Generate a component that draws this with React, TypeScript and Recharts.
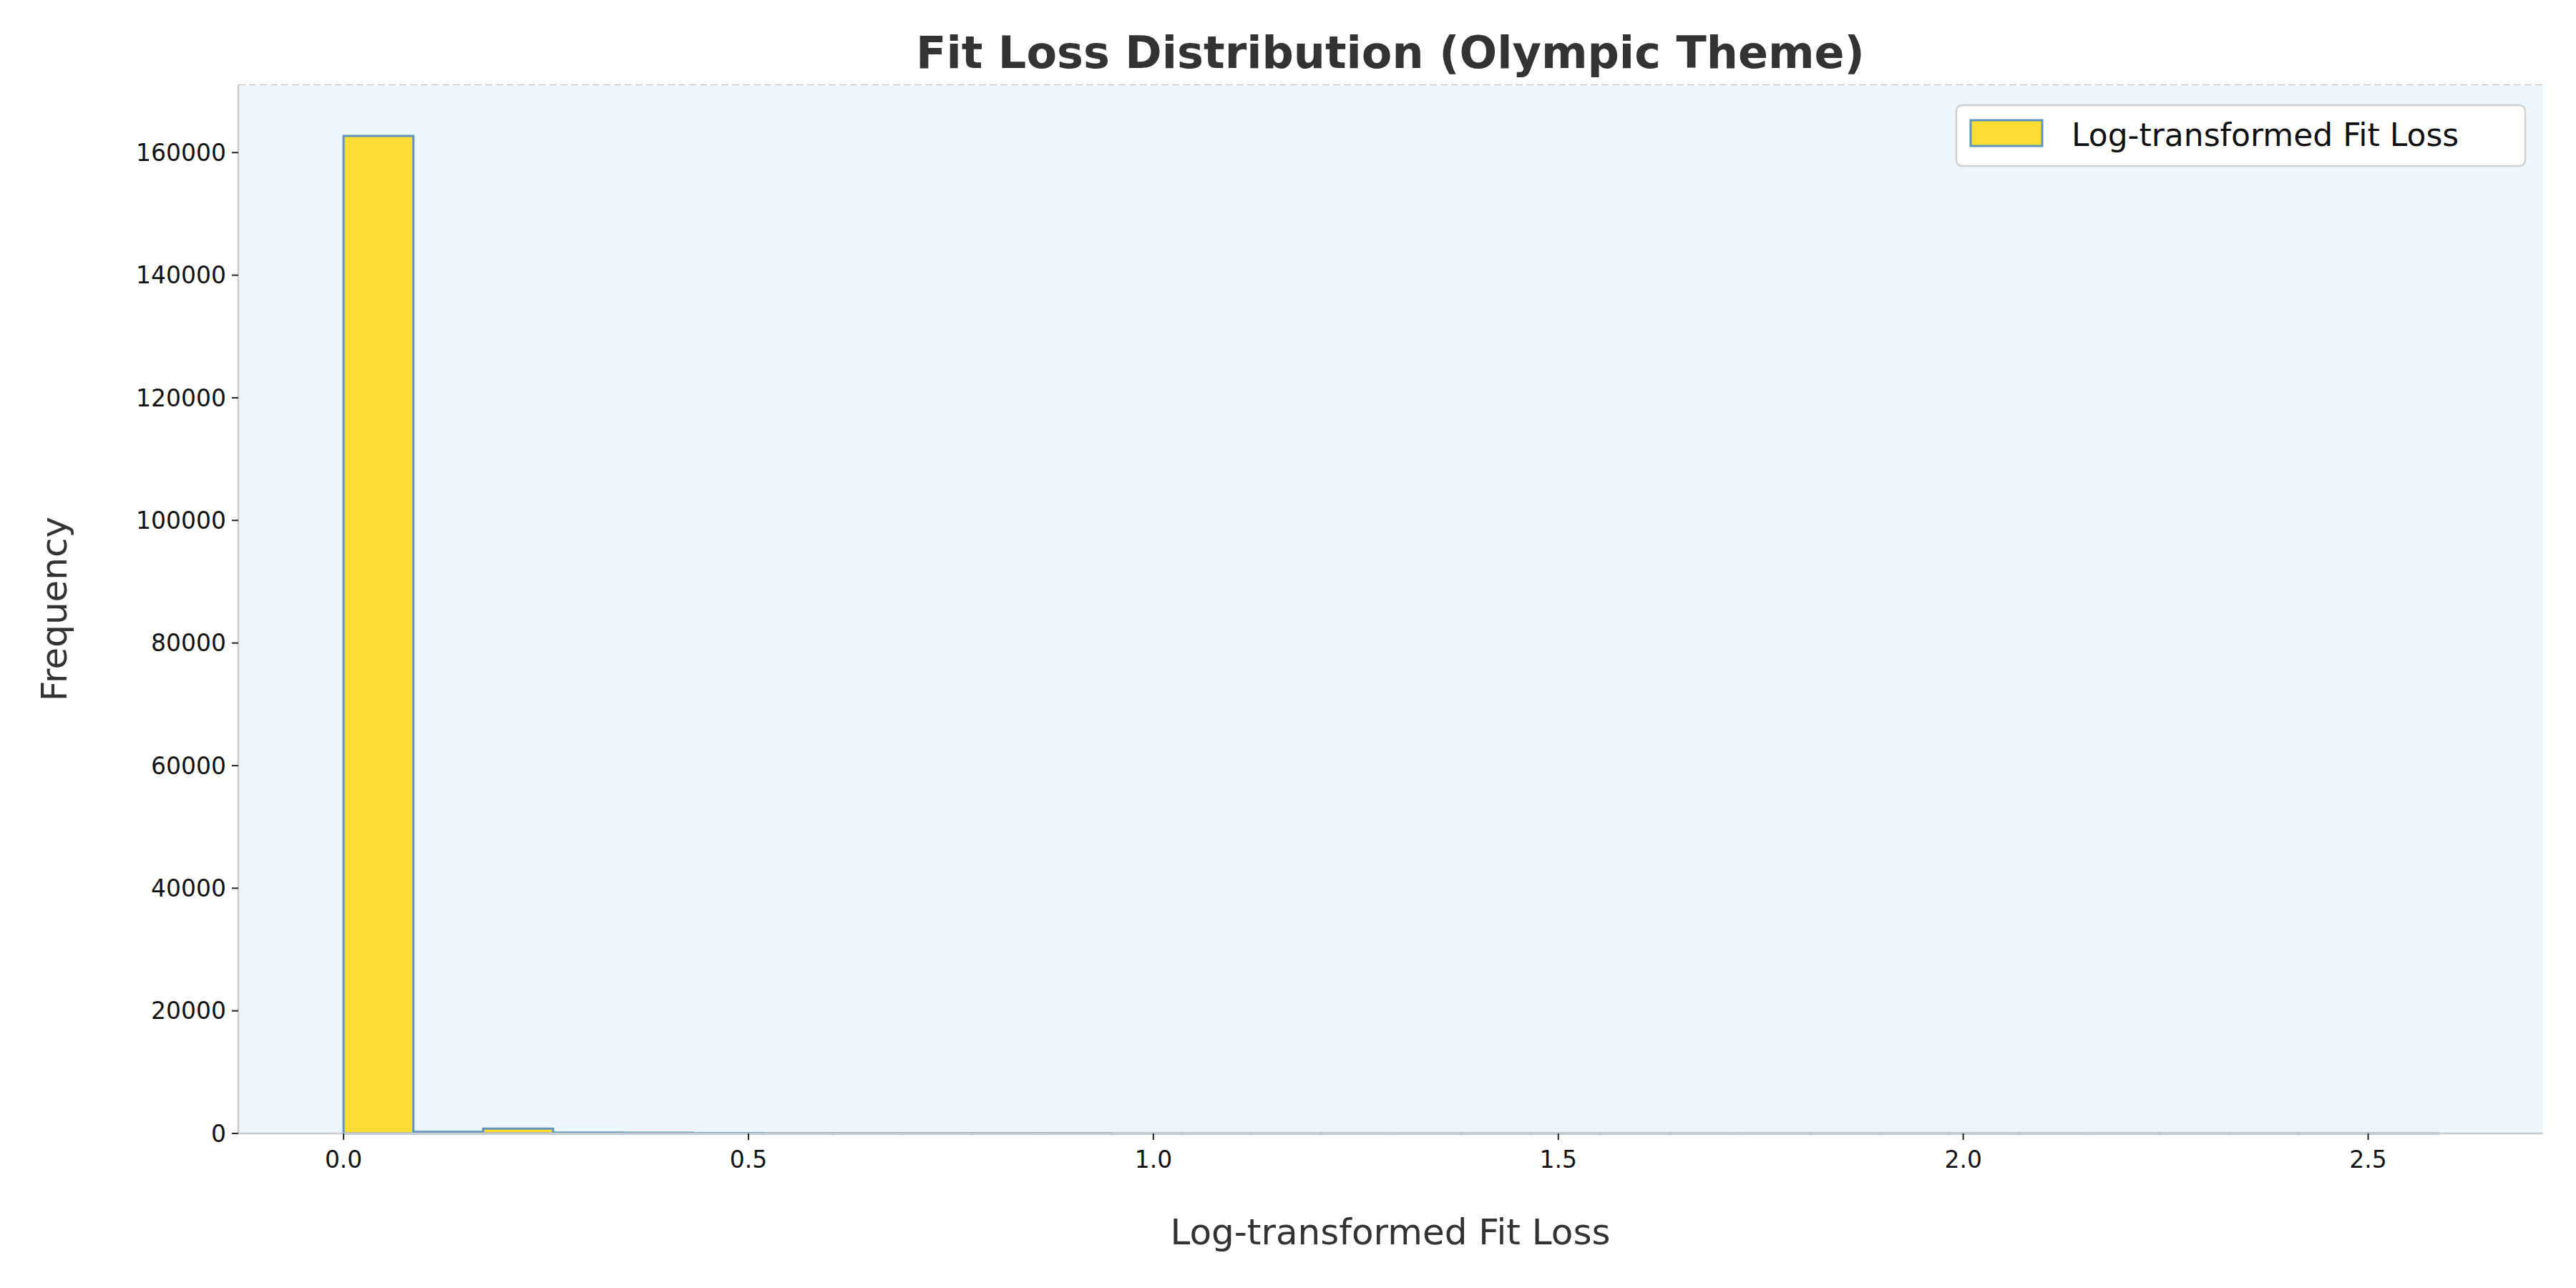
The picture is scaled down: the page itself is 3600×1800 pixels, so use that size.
import React from "react";
import { ComposedChart, XAxis, YAxis, CartesianGrid, ReferenceArea, Scatter } from "recharts";

const binStart = 0;
const binWidth = 0.08623;
const binCounts = [162700, 250, 800, 160, 120, 60, 40, 30, 25, 20, 15, 12, 10, 10, 8, 8, 6, 6, 5, 5, 4, 4, 3, 3, 3, 2, 2, 2, 2, 2];
const xTicks = [0, 0.5, 1.0, 1.5, 2.0, 2.5];
const yTicks = [0, 20000, 40000, 60000, 80000, 100000, 120000, 140000, 160000];
const titleText = "Fit Loss Distribution (Olympic Theme)";
const xLabel = "Log-transformed Fit Loss";
const yLabel = "Frequency";
const seriesName = "Log-transformed Fit Loss";

const FILL = "#FCDD33";
const EDGE = "#5F95BD";
const FONT = "DejaVu Sans, sans-serif";

const data = binCounts.map((c, i) => ({ x: binStart + (i + 0.5) * binWidth, y: c }));

export default function App() {
  return (
    <div style={{ position: "absolute", left: 0, top: 0, width: 3600, height: 1800, background: "#fff", fontFamily: FONT }}>
      <ComposedChart width={3600} height={1800} data={data} margin={{ top: 119, right: 46, bottom: 76, left: 133 }}>
        <rect x={333} y={119} width={3221} height={1465} fill="#EEF6FD" />
        <CartesianGrid vertical={false} stroke="#BBBBBB" strokeDasharray="10 5" strokeWidth={2} />
        <XAxis
          type="number"
          dataKey="x"
          domain={[-0.13, 2.716]}
          ticks={xTicks}
          tickFormatter={(v: number) => v.toFixed(1)}
          height={140}
          axisLine={{ stroke: "#CCCCCC", strokeWidth: 2.5 }}
          tickLine={{ stroke: "#222", strokeWidth: 2 }}
          tickSize={9}
          tick={{ fontSize: 33, fill: "#111", fontFamily: FONT, dy: 14 }}
          allowDataOverflow
        />
        <YAxis
          type="number"
          domain={[0, 171000]}
          ticks={yTicks}
          width={200}
          axisLine={{ stroke: "#CCCCCC", strokeWidth: 2.5 }}
          tickLine={{ stroke: "#222", strokeWidth: 2 }}
          tickSize={9}
          tick={{ fontSize: 33, fill: "#111", fontFamily: FONT, dx: -6 }}
          allowDataOverflow
        />
        {binCounts.map((c, i) => (
          <ReferenceArea
            key={i}
            x1={binStart + i * binWidth}
            x2={binStart + (i + 1) * binWidth}
            y1={0}
            y2={c}
            fill={FILL}
            fillOpacity={1}
            stroke={EDGE}
            strokeWidth={3}
            ifOverflow="visible"
          />
        ))}
        <Scatter dataKey="y" fill="none" isAnimationActive={false} legendType="none" shape={() => <g />} />
        <text x={1943} y={73} textAnchor="middle" dominantBaseline="central" fontSize={62} fontWeight="bold" fill="#333" fontFamily={FONT}>
          {titleText}
        </text>
        <text x={1943} y={1722} textAnchor="middle" dominantBaseline="central" fontSize={50} fill="#333" fontFamily={FONT}>
          {xLabel}
        </text>
        <text x={76} y={851} textAnchor="middle" dominantBaseline="central" fontSize={50} fill="#333" fontFamily={FONT} transform="rotate(-90 76 851)">
          {yLabel}
        </text>
        <g>
          <rect x={2734} y={147} width={795} height={85} rx={8} fill="#fff" stroke="#D0D0D0" strokeWidth={2.5} />
          <rect x={2754} y={168} width={100} height={36} fill={FILL} stroke={EDGE} strokeWidth={3} />
          <text x={2895} y={188} dominantBaseline="central" fontSize={44} fill="#111" fontFamily={FONT}>
            {seriesName}
          </text>
        </g>
      </ComposedChart>
    </div>
  );
}
